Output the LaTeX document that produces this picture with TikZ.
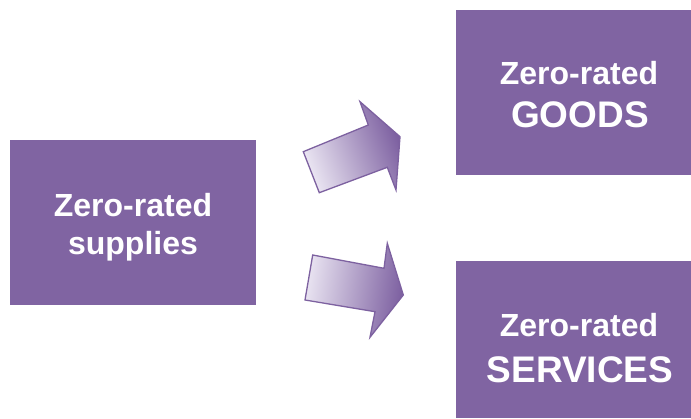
\documentclass[tikz,border=0pt]{standalone}
\usepackage{fontspec}
\setmainfont{Liberation Sans}
\definecolor{boxpurple}{HTML}{8064A2}
\definecolor{arrowlight}{HTML}{EAE5F2}
\definecolor{arrowdark}{HTML}{7C5FA0}
\definecolor{arrowline}{HTML}{7D61A0}
\begin{document}
\begin{tikzpicture}[x=1pt,y=-1pt,
  box/.style={fill=boxpurple, draw=none, inner sep=0pt, minimum width=246pt},
  lbl/.style={text=white, anchor=base, inner sep=0pt},
  small/.style={font=\bfseries\fontsize{32}{36}\selectfont},
  big/.style={font=\bfseries\fontsize{37}{40}\selectfont},
  arrowshape/.style={draw=arrowline, line width=1.3pt, line join=miter}]
\clip (0,0) rectangle (691,419);
\fill[white] (0,0) rectangle (691,419);
\node[box, minimum height=165pt] (supplies) at (133,222.5) {};
\node[box, minimum height=165pt] (goods) at (579,92.5) {};
\node[box, minimum height=157pt] (services) at (579,339.5) {};
\node[lbl, small] (suppliesA) at (133,217) {Zero-rated};
\node[lbl, small] (suppliesB) at (133,255) {supplies};
\node[lbl, small] (goodsA) at (579,85) {Zero-rated};
\node[lbl, big] (goodsB) at (580,128) {GOODS};
\node[lbl, small] (servicesA) at (579,337) {Zero-rated};
\node[lbl, big] (servicesB) at (580,383) {SERVICES};
% upper arrow
\draw[arrowshape, left color=arrowlight, right color=arrowdark, shading angle=111]
  (303.3,151.7) -- (368.3,125) -- (360,101.7) -- (400,136.7) -- (396,190) -- (387.3,167.3) -- (319.3,192.7) -- cycle;
% lower arrow
\draw[arrowshape, left color=arrowlight, right color=arrowdark, shading angle=82]
  (312.7,255) -- (384,268.3) -- (387.3,243.3) -- (403.3,295) -- (370,337.3) -- (375,311.7) -- (305,300) -- cycle;
\end{tikzpicture}
\end{document}
